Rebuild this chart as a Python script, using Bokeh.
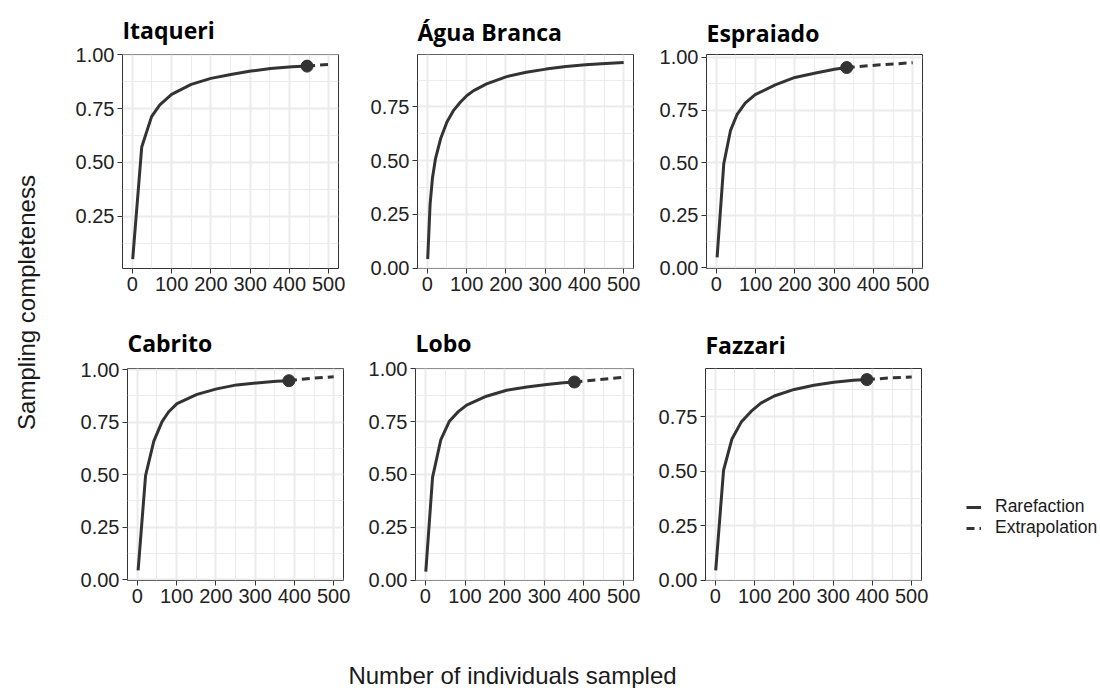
from bokeh.plotting import figure
from bokeh.models import (Range1d, FixedTicker, PrintfTickFormatter, Label,
                          Legend, LegendItem, Spacer)
from bokeh.layouts import row, column
from bokeh.embed import file_html
from bokeh.resources import INLINE
from math import pi

# ---------------- data ----------------
x_ticks = [0, 100, 200, 300, 400, 500]
x_minor = [50, 150, 250, 350, 450]
y_ticks = [0.0, 0.25, 0.5, 0.75, 1.0]
y_minor = [0.125, 0.375, 0.625, 0.875]
x_lim = (-25, 525)

itaqueri_x = [1, 24, 49, 70, 100, 150, 200, 251, 302, 352, 407, 445]
itaqueri_y = [0.051, 0.572, 0.713, 0.768, 0.817, 0.863, 0.891, 0.909, 0.925, 0.937, 0.945, 0.948]
itaqueri_obs = (445, 0.948)
itaqueri_ext_x = [445, 500]
itaqueri_ext_y = [0.948, 0.956]

agua_x = [1, 7, 13, 21, 34, 50, 67, 84, 101, 118, 151, 202, 252, 302, 353, 403, 454, 500]
agua_y = [0.042, 0.295, 0.418, 0.511, 0.603, 0.68, 0.734, 0.772, 0.803, 0.826, 0.857, 0.891,
          0.911, 0.926, 0.938, 0.946, 0.952, 0.957]

espraiado_x = [2, 19, 36, 53, 74, 99, 150, 200, 250, 301, 332]
espraiado_y = [0.05, 0.495, 0.652, 0.73, 0.784, 0.823, 0.870, 0.905, 0.925, 0.944, 0.952]
espraiado_obs = (332, 0.952)
espraiado_ext_x = [332, 410, 500]
espraiado_ext_y = [0.952, 0.964, 0.975]

cabrito_x = [2, 21, 42, 63, 80, 101, 152, 202, 253, 304, 354, 386]
cabrito_y = [0.044, 0.495, 0.659, 0.752, 0.799, 0.838, 0.882, 0.908, 0.927, 0.936, 0.944, 0.947]
cabrito_obs = (386, 0.947)
cabrito_ext_x = [386, 443, 500]
cabrito_ext_y = [0.947, 0.958, 0.966]

lobo_x = [1, 18, 39, 60, 83, 104, 154, 205, 256, 306, 348, 376]
lobo_y = [0.040, 0.486, 0.665, 0.75, 0.797, 0.828, 0.870, 0.898, 0.913, 0.925, 0.934, 0.937]
lobo_obs = (376, 0.937)
lobo_ext_x = [376, 432, 500]
lobo_ext_y = [0.937, 0.947, 0.960]

fazzari_x = [1, 21, 42, 66, 91, 116, 150, 201, 251, 302, 352, 386]
fazzari_y = [0.046, 0.505, 0.647, 0.726, 0.775, 0.813, 0.846, 0.876, 0.895, 0.909, 0.918, 0.921]
fazzari_obs = (386, 0.921)
fazzari_ext_x = [386, 445, 500]
fazzari_ext_y = [0.921, 0.929, 0.933]

legend_labels = ["Rarefaction", "Extrapolation"]

# ---------------- styling ----------------
INK = "#333333"
TICK_FONT = "Liberation Sans"
DASH = "8 5"


def panel(name, rx, ry, obs, ex, ey, ylim, w, h, bl, br, bt, bb, standoff):
    p = figure(width=w, height=h, x_range=Range1d(*x_lim), y_range=Range1d(*ylim),
               output_backend="svg", toolbar_location=None,
               min_border_left=bl, min_border_right=br, min_border_top=bt,
               min_border_bottom=bb)
    p.title.text = name
    p.title.text_font = "Open Sans"
    p.title.text_font_style = "bold"
    p.title.text_font_size = "23px"
    p.title.text_color = "black"
    p.title.align = "left"
    p.title.standoff = standoff
    p.outline_line_color = INK
    p.outline_line_width = 1
    p.background_fill_color = "white"
    p.border_fill_color = "white"

    p.xaxis.ticker = FixedTicker(ticks=x_ticks, minor_ticks=x_minor)
    p.yaxis.ticker = FixedTicker(ticks=y_ticks, minor_ticks=y_minor)
    p.yaxis.formatter = PrintfTickFormatter(format="%.2f")
    for ax in (p.xaxis, p.yaxis):
        ax.axis_line_color = None
        ax.major_tick_line_color = INK
        ax.major_tick_line_width = 1
        ax.major_tick_out = 5
        ax.major_tick_in = 0
        ax.minor_tick_out = 0
        ax.minor_tick_in = 0
        ax.major_label_text_font = TICK_FONT
        ax.major_label_text_font_size = "20px"
        ax.major_label_text_color = "#222222"
        ax.major_label_standoff = 3
    for g in (p.xgrid, p.ygrid):
        g.grid_line_color = "#EBEBEB"
        g.grid_line_width = 2
        g.minor_grid_line_color = "#EBEBEB"
        g.minor_grid_line_width = 1

    p.line(rx, ry, line_color=INK, line_width=3, line_join="round")
    if ex is not None:
        p.line(ex, ey, line_color=INK, line_width=3, line_dash=DASH)
    if obs is not None:
        p.scatter([obs[0]], [obs[1]], size=12, color=INK)
    return p


f1 = panel("Itaqueri", itaqueri_x, itaqueri_y, itaqueri_obs, itaqueri_ext_x, itaqueri_ext_y,
           (0.007, 1.002), 300, 300, 62, 22, 52, 32, 18)
f2 = panel("Água Branca", agua_x, agua_y, None, None, None,
           (-0.002, 0.994), 290, 300, 57, 17, 54, 31, 14)
f3 = panel("Espraiado", espraiado_x, espraiado_y, espraiado_obs, espraiado_ext_x,
           espraiado_ext_y, (-0.003, 1.014), 290, 300, 56, 18, 54, 30, 12)
f4 = panel("Cabrito", cabrito_x, cabrito_y, cabrito_obs, cabrito_ext_x, cabrito_ext_y,
           (-0.004, 1.005), 300, 325, 67, 17, 66, 45, 19)
f5 = panel("Lobo", lobo_x, lobo_y, lobo_obs, lobo_ext_x, lobo_ext_y,
           (-0.002, 1.001), 290, 325, 55, 17, 67, 43, 20)
f6 = panel("Fazzari", fazzari_x, fazzari_y, fazzari_obs, fazzari_ext_x,
           fazzari_ext_y, (-0.001, 0.972), 290, 325, 55, 19, 68, 42, 16)


def blank(w, h, xr, yr):
    b = figure(width=w, height=h, x_range=Range1d(*xr), y_range=Range1d(*yr),
               output_backend="svg", toolbar_location=None,
               x_axis_type=None, y_axis_type=None, min_border=0)
    b.outline_line_color = None
    b.xgrid.visible = False
    b.ygrid.visible = False
    return b


# legend panel (key renderers carry the Fazzari series but are hidden; only their keys show)
leg = blank(160, 325, (0, 1), (0, 1))
k_solid = leg.line(fazzari_x, fazzari_y, line_color=INK, line_width=3, visible=False)
k_dash = leg.line(fazzari_ext_x, fazzari_ext_y, line_color=INK, line_width=3,
                  line_dash=DASH, visible=False)
legend = Legend(items=[LegendItem(label=legend_labels[0], renderers=[k_solid]),
                       LegendItem(label=legend_labels[1], renderers=[k_dash])],
                location=(26, 42), padding=0, margin=0, spacing=0,
                glyph_width=15, glyph_height=20, label_height=20, label_standoff=14,
                label_text_font=TICK_FONT, label_text_font_size="17.5px",
                label_text_color="#1a1a1a", border_line_color=None,
                background_fill_alpha=0, inactive_fill_alpha=0)
leg.add_layout(legend)

# left axis title (data units = page pixels, y measured from bottom)
left = blank(60, 688, (0, 60), (0, 688))
left.add_layout(Label(x=26, y=688 - 302, text="Sampling completeness", angle=pi / 2,
                      text_align="center", text_baseline="middle",
                      text_font=TICK_FONT, text_font_size="24px", text_color="#1a1a1a"))

# bottom axis title
bottom = blank(1040, 63, (60, 1100), (0, 63))
bottom.add_layout(Label(x=512, y=13, text="Number of individuals sampled",
                        text_align="center", text_baseline="middle",
                        text_font=TICK_FONT, text_font_size="24px", text_color="#1a1a1a"))

layout = row(left,
             column(row(f1, f2, f3, Spacer(width=160, height=300)),
                    row(f4, f5, f6, leg),
                    bottom))

open("out.html", "w").write(file_html(layout, INLINE))
